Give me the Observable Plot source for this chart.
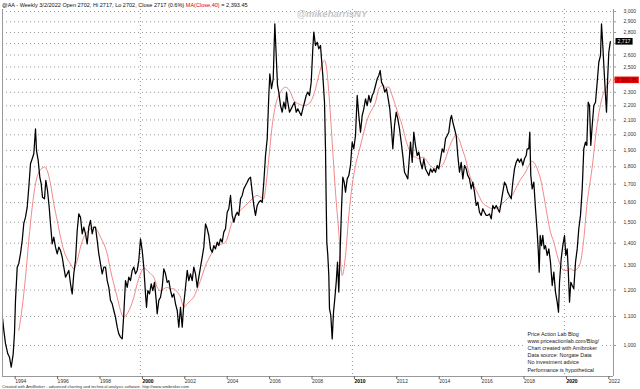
<!DOCTYPE html>
<html>
<head>
<meta charset="utf-8">
<script src="https://cdn.jsdelivr.net/npm/d3@7"></script>
<script src="https://cdn.jsdelivr.net/npm/@observablehq/plot@0.6"></script>
<style>
  html, body { margin: 0; padding: 0; background: #fff; }
  #chart svg { display: block; }
</style>
</head>
<body>
<div id="chart"></div>
<script>
// ---- data ----
const closeSeries = [
[1993.50,1092],[1993.557,1051],[1993.637,1006],[1993.745,973],[1993.825,962],[1993.906,931],[1994.0,973],[1994.06,1040],[1994.108,1160],[1994.189,1294],
[1994.264,1310],[1994.344,1353],[1994.425,1413],[1994.5,1494],[1994.58,1525],[1994.66,1576],[1994.736,1683],[1994.816,1818],[1994.896,1848],[1994.972,1879],
[1995.052,2040],[1995.099,1899],[1995.179,1838],[1995.255,1740],[1995.321,1702],[1995.382,1629],[1995.476,1620],[1995.538,1721],[1995.618,1665],[1995.698,1576],
[1995.759,1492],[1995.84,1397],[1995.915,1428],[1995.995,1382],[1996.075,1352],[1996.151,1382],[1996.231,1367],[1996.311,1337],[1996.387,1294],[1996.467,1252],
[1996.547,1266],[1996.623,1280],[1996.703,1225],[1996.783,1185],[1996.858,1266],[1996.939,1323],[1997.019,1460],[1997.094,1542],[1997.175,1525],[1997.255,1444],
[1997.33,1476],[1997.41,1444],[1997.49,1397],[1997.566,1476],[1997.646,1509],[1997.726,1444],[1997.802,1476],[1997.882,1476],[1997.962,1413],[1998.038,1352],
[1998.118,1308],[1998.198,1266],[1998.274,1294],[1998.354,1294],[1998.434,1238],[1998.509,1211],[1998.59,1160],[1998.67,1147],[1998.745,1122],[1998.825,1098],
[1998.906,1062],[1998.981,1039],[1999.061,1028],[1999.142,1022],[1999.217,1110],[1999.297,1238],[1999.377,1211],[1999.453,1252],[1999.533,1238],[1999.613,1280],
[1999.689,1294],[1999.769,1266],[1999.849,1280],[1999.925,1323],[2000.005,1420],[2000.085,1367],[2000.16,1294],[2000.24,1185],[2000.288,1134],[2000.35,1198],
[2000.43,1185],[2000.51,1225],[2000.585,1198],[2000.665,1231],[2000.745,1160],[2000.792,1110],[2000.868,1160],[2000.948,1172],[2001.028,1211],[2001.104,1287],
[2001.184,1266],[2001.264,1231],[2001.34,1238],[2001.42,1198],[2001.5,1172],[2001.575,1185],[2001.656,1147],[2001.736,1122],[2001.811,1062],[2001.892,1134],
[2001.972,1062],[2002.047,1147],[2002.127,1211],[2002.208,1280],[2002.283,1238],[2002.363,1266],[2002.443,1238],[2002.519,1294],[2002.599,1266],[2002.679,1211],
[2002.755,1252],[2002.835,1294],[2002.915,1337],[2002.991,1382],[2003.071,1492],[2003.151,1468],[2003.226,1436],[2003.307,1374],[2003.387,1359],[2003.462,1389],
[2003.542,1374],[2003.623,1405],[2003.698,1389],[2003.778,1420],[2003.858,1405],[2003.934,1452],[2004.014,1468],[2004.094,1550],[2004.17,1568],[2004.25,1638],
[2004.33,1534],[2004.406,1500],[2004.486,1534],[2004.566,1550],[2004.642,1534],[2004.722,1620],[2004.802,1638],[2004.877,1674],[2004.958,1693],[2005.038,1711],
[2005.113,1730],[2005.193,1740],[2005.274,1656],[2005.349,1585],[2005.429,1534],[2005.509,1585],[2005.585,1602],[2005.665,1611],[2005.745,1602],[2005.821,1711],
[2005.901,1868],[2005.981,1974],[2006.057,2276],[2006.104,2444],[2006.184,2327],[2006.264,2404],[2006.34,2881],[2006.406,2596],[2006.467,2352],[2006.528,2301],
[2006.608,2202],[2006.689,2154],[2006.764,2226],[2006.844,2178],[2006.892,2301],[2006.953,2226],[2007.033,2154],[2007.113,2178],[2007.189,2202],[2007.269,2226],
[2007.349,2154],[2007.425,2178],[2007.505,2154],[2007.585,2131],[2007.66,2178],[2007.741,2226],[2007.821,2276],[2007.896,2301],[2007.976,2276],[2008.057,2378],
[2008.132,2654],[2008.179,2803],[2008.259,2683],[2008.34,2712],[2008.415,2654],[2008.495,2683],[2008.542,2568],[2008.604,2431],[2008.684,2226],[2008.731,1910],
[2008.764,1602],[2008.792,1405],[2008.84,1345],[2008.887,1259],[2008.92,1128],[2008.981,1104],[2009.047,1022],[2009.109,1116],[2009.17,1166],[2009.236,1231],
[2009.297,1315],[2009.358,1192],[2009.425,1374],[2009.486,1568],[2009.547,1740],[2009.613,1711],[2009.675,1656],[2009.755,1730],[2009.83,1749],[2009.91,1808],
[2009.99,1952],[2010.066,1910],[2010.146,1995],[2010.226,2276],[2010.302,2131],[2010.382,2017],[2010.462,2131],[2010.538,2178],[2010.618,2251],[2010.698,2202],
[2010.774,2276],[2010.854,2226],[2010.934,2276],[2011.009,2301],[2011.09,2352],[2011.17,2404],[2011.245,2431],[2011.311,2471],[2011.373,2378],[2011.453,2352],
[2011.528,2301],[2011.608,2327],[2011.689,2251],[2011.764,2178],[2011.844,2040],[2011.906,1910],[2011.986,2062],[2012.066,2154],[2012.142,2108],[2012.222,2040],
[2012.302,1952],[2012.377,1868],[2012.458,1768],[2012.538,1749],[2012.613,1730],[2012.741,1952],[2012.821,1827],[2012.896,2017],[2012.976,1931],[2013.057,1868],
[2013.132,1889],[2013.212,1827],[2013.292,1788],[2013.368,1848],[2013.448,1788],[2013.528,1768],[2013.604,1749],[2013.684,1788],[2013.764,1768],[2013.84,1788],
[2013.92,1768],[2014.0,1808],[2014.075,1788],[2014.156,1848],[2014.236,1910],[2014.311,1889],[2014.392,1974],[2014.472,1995],[2014.547,2017],[2014.627,2108],
[2014.675,2131],[2014.736,2085],[2014.816,2040],[2014.896,1995],[2014.972,1868],[2015.052,1768],[2015.132,1827],[2015.208,1730],[2015.288,1808],[2015.368,1788],
[2015.443,1749],[2015.524,1730],[2015.604,1674],[2015.679,1711],[2015.759,1656],[2015.84,1585],[2015.915,1602],[2015.995,1550],[2016.075,1534],[2016.151,1568],
[2016.231,1550],[2016.311,1534],[2016.387,1534],[2016.467,1542],[2016.547,1517],[2016.623,1585],[2016.703,1568],[2016.783,1585],[2016.858,1568],[2016.939,1550],
[2017.019,1602],[2017.094,1656],[2017.175,1711],[2017.255,1693],[2017.33,1656],[2017.41,1638],[2017.491,1620],[2017.566,1711],[2017.646,1788],[2017.726,1827],
[2017.802,1848],[2017.882,1827],[2017.962,1848],[2018.038,1808],[2018.118,1848],[2018.198,1868],[2018.245,1910],[2018.321,1910],[2018.368,2017],[2018.415,1749],
[2018.481,1674],[2018.557,1711],[2018.637,1568],[2018.717,1452],[2018.764,1374],[2018.811,1273],[2018.858,1436],[2018.92,1389],[2018.981,1436],[2019.047,1374],
[2019.108,1389],[2019.189,1345],[2019.264,1374],[2019.344,1315],[2019.425,1218],[2019.5,1273],[2019.58,1192],[2019.66,1153],[2019.722,1116],[2019.769,1231],
[2019.849,1330],[2019.925,1389],[2020.005,1436],[2020.066,1345],[2020.132,1374],[2020.179,1287],[2020.241,1153],[2020.302,1231],[2020.368,1218],[2020.443,1205],
[2020.524,1315],[2020.604,1374],[2020.679,1468],[2020.759,1534],[2020.84,1674],[2020.915,1910],[2020.995,1952],[2021.057,1931],[2021.123,2226],[2021.184,2202],
[2021.245,1931],[2021.311,2062],[2021.387,2202],[2021.467,2226],[2021.547,2378],[2021.623,2539],[2021.703,2596],[2021.75,2881],[2021.811,2683],[2021.877,2457],
[2021.939,2276],[2021.986,2154],[2022.033,2378],[2022.094,2624],[2022.167,2717]
];

const maSeries = [
[1994.264,1051],[1994.425,1134],[1994.58,1252],[1994.736,1413],[1994.896,1576],[1995.052,1702],[1995.208,1768],[1995.368,1792],[1995.476,1798],[1995.604,1778],
[1995.759,1702],[1995.915,1594],[1996.075,1509],[1996.231,1428],[1996.387,1367],[1996.547,1330],[1996.703,1308],[1996.858,1287],[1997.019,1323],[1997.175,1382],
[1997.33,1428],[1997.49,1452],[1997.646,1468],[1997.802,1476],[1997.962,1460],[1998.118,1428],[1998.274,1397],[1998.434,1352],[1998.59,1280],[1998.745,1225],
[1998.906,1172],[1999.061,1122],[1999.217,1098],[1999.377,1110],[1999.533,1134],[1999.689,1172],[1999.849,1225],[2000.005,1266],[2000.16,1290],[2000.321,1280],
[2000.476,1266],[2000.632,1252],[2000.792,1211],[2000.948,1198],[2001.104,1205],[2001.264,1211],[2001.42,1205],[2001.575,1205],[2001.736,1192],[2001.892,1172],
[2002.047,1134],[2002.208,1147],[2002.363,1160],[2002.519,1172],[2002.679,1205],[2002.835,1238],[2002.991,1280],[2003.071,1301],[2003.226,1330],[2003.387,1359],
[2003.542,1389],[2003.858,1397],[2004.014,1405],[2004.33,1500],[2004.642,1550],[2004.958,1585],[2005.274,1620],[2005.509,1638],[2005.665,1629],[2005.821,1620],
[2005.901,1674],[2006.057,1848],[2006.217,2062],[2006.373,2202],[2006.608,2301],[2006.844,2339],[2007.08,2301],[2007.236,2239],[2007.472,2214],[2007.708,2202],
[2007.943,2214],[2008.104,2251],[2008.259,2327],[2008.415,2431],[2008.575,2526],[2008.684,2554],[2008.764,2512],[2008.887,2301],[2009.047,1952],[2009.203,1656],
[2009.358,1452],[2009.519,1259],[2009.675,1345],[2009.83,1534],[2009.99,1693],[2010.146,1808],[2010.302,1889],[2010.462,1974],[2010.618,2062],[2010.774,2131],
[2010.934,2178],[2011.09,2226],[2011.245,2327],[2011.406,2352],[2011.561,2339],[2011.717,2339],[2011.877,2276],[2012.033,2202],[2012.189,2131],[2012.349,2062],
[2012.505,1974],[2012.66,1910],[2012.821,1868],[2012.976,1858],[2013.132,1848],[2013.292,1858],[2013.448,1848],[2013.604,1818],[2013.764,1798],[2013.92,1788],
[2014.075,1798],[2014.236,1808],[2014.392,1848],[2014.547,1910],[2014.708,1963],[2014.863,1995],[2015.019,1974],[2015.179,1910],[2015.335,1848],[2015.491,1768],
[2015.651,1711],[2015.807,1674],[2015.962,1638],[2016.123,1602],[2016.278,1585],[2016.434,1576],[2016.594,1568],[2016.75,1571],[2016.906,1576],[2017.066,1594],
[2017.222,1611],[2017.377,1629],[2017.538,1638],[2017.693,1674],[2017.849,1711],[2018.009,1740],[2018.165,1768],[2018.321,1808],[2018.448,1832],[2018.557,1827],
[2018.717,1788],[2018.873,1730],[2019.028,1638],[2019.189,1534],[2019.344,1452],[2019.5,1405],[2019.66,1345],[2019.816,1301],[2019.972,1280],[2020.132,1280],
[2020.288,1287],[2020.443,1280],[2020.604,1287],[2020.759,1315],[2020.915,1420],[2021.075,1602],[2021.151,1665],[2021.311,1798],[2021.467,1984],[2021.623,2145],
[2021.783,2263],[2022.019,2352],[2022.167,2393.45]
];

const yTicks = [1000,1100,1200,1300,1400,1500,1600,1700,1800,1900,2000,2100,2200,2300,2400,2500,2600,2700,2800,2900,3000];
const yTickLabels = [1000,1100,1200,1300,1400,1500,1600,1700,1800,1900,2000,2100,2200,2300,2500,2600,2800,2900,3000];
const xTicksPlain = [1994,1996,1998,2002,2004,2006,2008,2012,2014,2016,2018,2022];
const xTicksBold = [2000,2010,2020];
const lastClose = 2717;
const lastMA = 2393.45;

const headerMain = "@AA - Weekly 3/2/2022 Open 2702, Hi 2717, Lo 2702, Close 2717 (0.6%) ";
const headerMA = "MA(Close,40)";
const headerTail = " = 2,393.45";
const watermark = "@mikeharrisNY";
const noteLines = ["Price Action Lab Blog","www.priceactionlab.com/Blog/","Chart created with Amibroker","Data source: Norgate Data","No investment advice","Performance is hypothetical"];
const credit = "Created with AmiBroker - advanced charting and technical analysis software. http://www.amibroker.com";

// ---- chart ----
const closeData = closeSeries.map(([t, v]) => ({t, v}));
const maData = maSeries.map(([t, v]) => ({t, v}));
const xDomain = [1993.495, 2022.316];
const yDomain = [903, 3020];
const fmt = d3.format(",");
const fmt2 = d3.format(",.2f");
const FONT = "'Liberation Sans', Arial, sans-serif";

const fig = Plot.plot({
  width: 640,
  height: 389,
  marginTop: 9,
  marginBottom: 13,
  marginLeft: 2,
  marginRight: 27,
  style: {fontFamily: FONT, fontSize: "5px", background: "#fff", color: "#222"},
  x: {domain: xDomain, axis: null, label: null},
  y: {type: "log", domain: yDomain, axis: null, label: null},
  marks: [
    Plot.gridY(yTicks, {stroke: "#8c8c8c", strokeOpacity: 0.9, strokeDasharray: "1,3"}),
    Plot.ruleX(xTicksBold, {stroke: "#8c8c8c", strokeOpacity: 0.9, strokeDasharray: "1,3"}),
    Plot.text([watermark], {frameAnchor: "top", dx: 24, dy: 1, fontSize: 9.5, fontWeight: "bold", fontStyle: "italic", fill: "#c6c6c6"}),
    Plot.line(maData, {x: "t", y: "v", stroke: "#f27a7a", strokeWidth: 0.9, curve: "monotone-x"}),
    Plot.line(closeData, {x: "t", y: "v", stroke: "#000", strokeWidth: 1.25}),
    Plot.ruleY([yDomain[0]], {stroke: "#999"}),
    Plot.ruleX(xDomain, {stroke: "#999"}),
    Plot.axisY(yTicks, {anchor: "right", tickFormat: null, text: null, label: null, tickSize: 2, stroke: "#999"}),
    Plot.axisY(yTickLabels, {anchor: "right", tickFormat: fmt, label: null, tickSize: 0, tickPadding: 10, fontSize: 5, fill: "#333"}),
    Plot.axisX(xTicksPlain, {anchor: "bottom", tickFormat: d => String(d), label: null, tickSize: 3, tickPadding: 0, textAnchor: "start", dx: 2, fontSize: 5, stroke: "#666", fill: "#333"}),
    Plot.axisX(xTicksBold, {anchor: "bottom", tickFormat: d => String(d), label: null, tickSize: 3, tickPadding: 0, textAnchor: "start", dx: 2, fontSize: 5, fontWeight: "bold", stroke: "#666", fill: "#000"}),
    Plot.text([noteLines.join("\n")], {frameAnchor: "bottom-right", textAnchor: "start", lineAnchor: "bottom", dx: -86, dy: -5, fontSize: 5.4, lineHeight: 1.3, fill: "#222"}),
    Plot.text([lastClose], {y: d => d, text: d => fmt(d), frameAnchor: "right", dx: 4, textAnchor: "start", fill: "#fff", fontSize: 5.2}),
    Plot.text([lastMA], {y: d => d, text: d => fmt2(d), frameAnchor: "right", dx: 3, textAnchor: "start", fill: "#600", fontSize: 5.2})
  ]
});
document.getElementById("chart").append(fig);

const svg = d3.select(fig);

// value label backgrounds
function boxBehind(label, fill) {
  svg.selectAll("text").each(function() {
    if (this.textContent === label) {
      const b = this.getBBox();
      const r = document.createElementNS("http://www.w3.org/2000/svg", "rect");
      r.setAttribute("x", b.x - 2);
      r.setAttribute("y", b.y - 0.3);
      r.setAttribute("width", b.width + 4);
      r.setAttribute("height", b.height + 0.6);
      r.setAttribute("fill", fill);
      if (this.getAttribute("transform")) r.setAttribute("transform", this.getAttribute("transform"));
      this.parentNode.insertBefore(r, this);
    }
  });
}
boxBehind(fmt(lastClose), "#000");
boxBehind(fmt2(lastMA), "#f00000");
boxBehind(noteLines.join(""), "#fff");

// header line
const head = svg.append("text")
  .attr("x", 2).attr("y", 7)
  .attr("text-anchor", "start")
  .attr("font-size", 5.55).attr("font-family", FONT)
  .style("white-space", "pre").attr("fill", "#111");
head.append("tspan").text(headerMain);
head.append("tspan").attr("fill", "#e00000").text(headerMA);
head.append("tspan").text(headerTail);

// credit line
svg.append("text")
  .attr("x", 2).attr("y", 388)
  .attr("text-anchor", "start")
  .attr("font-size", 4.1).attr("font-family", FONT)
  .attr("fill", "#333").text(credit);
</script>
</body>
</html>
